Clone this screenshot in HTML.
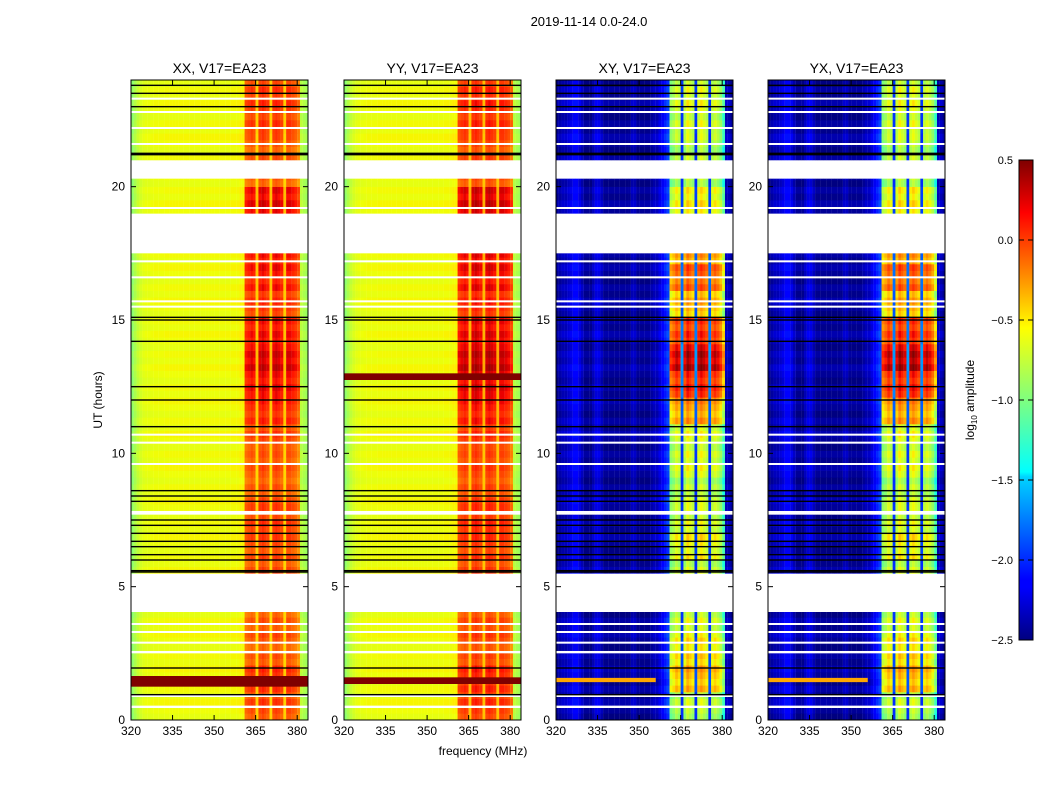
<!DOCTYPE html>
<html><head><meta charset="utf-8"><style>
body{margin:0;background:#fff;}
svg text{font-family:"Liberation Sans",sans-serif;}
</style></head><body>
<svg id="fig" width="1050" height="800" xmlns="http://www.w3.org/2000/svg">
<text x="589" y="26" font-size="13" text-anchor="middle">2019-11-14 0.0-24.0</text>
<text x="483" y="755" font-size="12" text-anchor="middle">frequency (MHz)</text>
<text transform="translate(102,400) rotate(-90)" font-size="12" text-anchor="middle">UT (hours)</text>
<g id="panels"></g>
<defs><linearGradient id="jet" x1="0" y1="1" x2="0" y2="0">
<stop offset="0" stop-color="#00007f"/><stop offset="0.11" stop-color="#0000ff"/><stop offset="0.125" stop-color="#0000ff"/><stop offset="0.34" stop-color="#00d4ff"/><stop offset="0.35" stop-color="#0ff"/><stop offset="0.5" stop-color="#7fff7f"/><stop offset="0.65" stop-color="#ff0"/><stop offset="0.89" stop-color="#f00"/><stop offset="1" stop-color="#7f0000"/></linearGradient></defs>
<rect x="1019" y="160" width="14" height="480" fill="url(#jet)" stroke="#000"/>
<g id="cbticks" font-size="11"></g>
<text transform="translate(974,400) rotate(-90)" font-size="12" text-anchor="middle">log<tspan font-size="8" dy="3">10</tspan><tspan dy="-3"> amplitude</tspan></text>
</svg>
<script>
const titles=["XX, V17=EA23","YY, V17=EA23","XY, V17=EA23","YX, V17=EA23"];
const panelX=[131,344,556,768];
const freqs=[];for(let f=320;f<384;f++)freqs.push(f);
const xTicks=[320,335,350,365,380];
const yTicks=[0,5,10,15,20];
const cbTicks=[0.5,0.0,-0.5,-1.0,-1.5,-2.0,-2.5];
const segments=[[0,0.45],[0.55,2.5],[2.6,4.05],[5.5,7.7],[7.85,17.5],[19.0,20.3],[21.0,24]];
const whiteLines=[0.9,2.9,3.3,3.6,9.6,10.4,10.7,15.5,15.7,16.6,17.2,19.2,21.6,22.2,22.8,23.3];
const blackLines=[0.95,1.95,5.55,5.6,6.0,6.2,6.5,6.7,7.0,7.3,7.5,8.2,8.4,8.6,11.0,12.0,12.5,14.2,15.0,15.1,21.2,21.25,23.0,23.5,23.8];
const xxLow=[-0.95,-0.85,-0.76,-0.7,-0.66,-0.64,-0.64,-0.63,-0.62,-0.62,-0.62,-0.62,-0.61,-0.61,-0.61,-0.61,-0.61,-0.61,-0.61,-0.61,-0.61,-0.61,-0.61,-0.61,-0.61,-0.61,-0.61,-0.61,-0.61,-0.61,-0.61,-0.61,-0.61,-0.61,-0.61,-0.61,-0.6,-0.6,-0.6,-0.58,-0.58];
const xyLow=[-2.5,-2.45,-2.4,-2.4,-2.35,-2.3,-2.2,-2.2,-2.3,-2.4,-2.5,-2.5,-2.5,-2.4,-2.3,-2.3,-2.4,-2.5,-2.5,-2.5,-2.5,-2.5,-2.5,-2.5,-2.5,-2.5,-2.5,-2.4,-2.4,-2.5,-2.5,-2.5,-2.5,-2.5,-2.45,-2.4,-2.4,-2.3,-2.2,-2.1,-2.0];
const highXX=[-0.2,-0.15,-0.1,-0.15,-0.45,-0.1,-0.05,-0.1,-0.15,-0.45,-0.1,-0.05,-0.1,-0.15,-0.45,-0.1,-0.1,-0.15,-0.2,-0.3];
const highXY=[-1.1,-1.0,-0.85,-0.95,-2.0,-0.95,-0.75,-0.85,-0.95,-2.0,-0.85,-0.75,-0.85,-0.95,-2.0,-0.95,-0.85,-0.95,-1.1,-1.4];
const tailXX=[-0.8,-0.85,-0.9];
const tailXY=[-2.4,-2.4,-2.5];
const xxBoost=[0.05,0.1,0,0,0,0,0.05,0.1,0,0,0.05,0.15,0.25,0.3,0.2,0.1,0.2,0.2,0,0.25,0,0,0.1,0.1];
const xyBoost=[0,0.4,0.3,0.1,0,0,0.2,0.1,0,0.1,0.1,0.5,0.9,1.1,0.8,0.4,0.7,0.5,0,0.2,0,0,0.1,0.1];
const redBands=[[[1.25,1.65]],[[1.35,1.6],[12.75,13.0]],[],[]];
const rowStep=0.25;
function jet(v){let t=(v+2.5)/3;t=Math.max(0,Math.min(1,t));
 const cl=x=>Math.round(255*Math.max(0,Math.min(1,x)));
 const r=t<0.35?0:t<0.66?(t-0.35)/0.31:t<0.89?1:1-(t-0.89)/0.11*0.5;
 const g=t<0.125?0:t<0.375?(t-0.125)/0.25:t<0.64?1:t<0.91?1-(t-0.64)/0.27:0;
 const b=t<0.11?0.5+t/0.11*0.5:t<0.34?1:t<0.65?1-(t-0.34)/0.31:0;
 return `rgb(${cl(r)},${cl(g)},${cl(b)})`;}
const NS="http://www.w3.org/2000/svg";
const PW=177,PT=80,PH=640;
const ys=h=>PT+PH-h/24*PH;
function mk(tag,attrs,parent){const e=document.createElementNS(NS,tag);for(const k in attrs)e.setAttribute(k,attrs[k]);parent.appendChild(e);return e;}
const root=document.getElementById('panels');
const fx=f=>(f-320)*2.77;
const H0=361,H1=380;
panelX.forEach((px,p)=>{
 const g=mk('g',{transform:`translate(${px},0)`},root);
 
 
 const cross=p>=2;
 const low=cross?xyLow:xxLow, high=cross?highXY:highXX, tail=cross?tailXY:tailXX, boost=cross?xyBoost:xxBoost;
 const prof=low.concat(high,tail);
 segments.forEach(s=>{
  for(let h=s[0];h<s[1]-1e-6;h+=rowStep){
   const h2=Math.min(h+rowStep,s[1]);
   const hb=boost[Math.min(23,Math.floor(h))];
   const wig=((Math.floor(h*4)*7)%5)*0.03;
   freqs.forEach((f,i)=>{
    let v=prof[i];
    if(f>=H0&&f<=H1){const dip=cross?high[f-H0]<-1.5:high[f-H0]<-0.3; v+= dip?hb*0.3:hb+wig*(cross?1.5:1);}
    else v+=wig*(cross?1:0.5);
    if(p==1&&f>=H0&&f<=H1)v+=0.05;
    const r=mk('rect',{x:fx(f),y:ys(h2),width:2.9,height:ys(h)-ys(h2)+0.3,fill:jet(v)},g);
    
    
   });
  }
 });
 redBands[p].forEach(b=>{const r=mk('rect',{x:0,y:ys(b[1]),width:PW,height:ys(b[0])-ys(b[1]),fill:'#7f0000'},g);
  });
 if(cross){const r=mk('rect',{x:0,y:ys(1.58),width:fx(356),height:ys(1.42)-ys(1.58),fill:jet(-0.3)},g);
  }
 whiteLines.forEach(h=>{const l=mk('rect',{x:0,y:ys(h)-1,width:PW,height:2,fill:'#fff'},g);});
 blackLines.forEach(h=>{const l=mk('rect',{x:0,y:ys(h)-0.7,width:PW,height:1.4,fill:'#000'},g);});
 const fr=mk('rect',{x:0,y:PT,width:PW,height:PH,fill:'none',stroke:'#000','stroke-width':1},g);
 
 const t=mk('text',{x:PW/2,y:73,'font-size':14,'text-anchor':'middle'},g);t.textContent=titles[p];
 
 xTicks.forEach(v=>{const x=fx(v);mk('line',{x1:x,x2:x,y1:720,y2:715,stroke:'#000'},g);mk('line',{x1:x,x2:x,y1:80,y2:85,stroke:'#000'},g);
  const tx=mk('text',{x:x,y:735,'font-size':12,'text-anchor':'middle'},g);tx.textContent=v;
  });
 yTicks.forEach(v=>{const y=ys(v);mk('line',{x1:0,x2:5,y1:y,y2:y,stroke:'#000'},g);mk('line',{x1:PW,x2:PW-5,y1:y,y2:y,stroke:'#000'},g);
  const ty=mk('text',{x:-6,y:y+4,'font-size':12,'text-anchor':'end'},g);ty.textContent=v;
  });
});
const cb=document.getElementById('cbticks');
cbTicks.forEach(v=>{const y=640-(v+2.5)/3*480;
 mk('line',{x1:1019,x2:1024,y1:y,y2:y,stroke:'#000'},cb);
 mk('line',{x1:1028,x2:1033,y1:y,y2:y,stroke:'#000'},cb);
 const t=mk('text',{x:1013,y:y+4,'text-anchor':'end'},cb);t.textContent=(v<0?'\u2212':'')+Math.abs(v).toFixed(1);
 });
</script>
</body></html>
